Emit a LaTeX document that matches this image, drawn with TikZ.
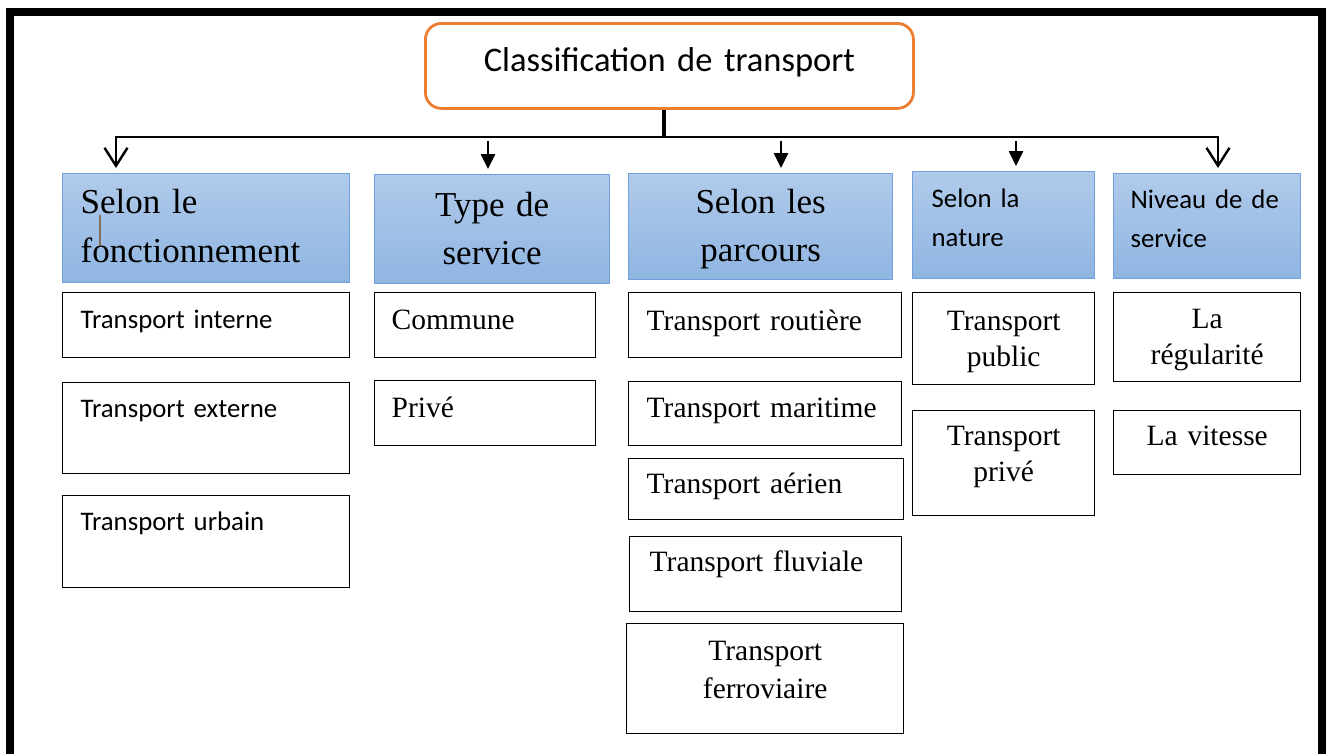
\documentclass[tikz,border=0pt]{standalone}
\usepackage{fontspec}
\setmainfont{Liberation Serif}
\newfontfamily\calib{Carlito}
\usetikzlibrary{arrows.meta,calc}
\definecolor{orng}{RGB}{237,125,49}
\definecolor{bluetop}{RGB}{176,202,234}
\definecolor{bluebot}{RGB}{143,181,226}
\definecolor{blueedge}{RGB}{112,161,221}
\definecolor{caretc}{RGB}{130,112,92}
% \mkbox{name}{style}{x1}{y1}{x2}{y2}{first baseline}{side margin}{text}
\newcommand\mkbox[9]{%
  \node[#2, anchor=north west, inner ysep=0pt, inner xsep=#8pt,
        text width={#5-#3-2*#8}, text height={#7-#4}, text depth={#6-#7}]
        (#1) at (#3,-#4) {#9};}
\begin{document}
\begin{tikzpicture}[x=1pt,y=1pt,
  topbox/.style={draw=orng, line width=2.8pt, rounded corners=16pt, fill=white,
                 font=\calib\fontsize{34.5}{42}\selectfont, align=center},
  head/.style={draw=blueedge, line width=1.3pt, top color=bluetop, bottom color=bluebot},
  hserifl/.style={head, font=\fontsize{35}{49}\selectfont, align=left},
  hserifc/.style={head, font=\fontsize{35}{48}\selectfont, align=center},
  hsans/.style={head, font=\calib\fontsize{26.8}{38.5}\selectfont, align=left},
  item/.style={draw=black, line width=1.4pt, fill=white},
  isans/.style={item, font=\calib\fontsize{26.8}{34}\selectfont, align=left},
  iserifl/.style={item, font=\fontsize{29.5}{36}\selectfont, align=left},
  iserifc/.style={item, font=\fontsize{29.5}{36}\selectfont, align=center},
  bus/.style={draw=black, line width=2.6pt},
  openarr/.style={bus, shorten >=5pt, -{Straight Barb[length=18pt,width=23pt,line width=2.4pt]}},
  fillarr/.style={bus, shorten >=5pt, -{Triangle[length=15pt,width=14pt]}},
  frame/.style={draw=black, line width=8pt},
  caret/.style={draw=caretc, line width=1.3pt}
]
\fill[white] (0,0) rectangle (1326,-753);
\useasboundingbox (0,0) rectangle (1326,-753);
\draw[frame] (10,-770) -- (10,-12) -- (1321.5,-12) -- (1321.5,-770);

% top
\mkbox{top}{topbox}{424}{22}{912}{107}{70}{0}{Classification de transport}

% headers
\mkbox{h1}{hserifl}{62}{173}{349}{282}{213}{18}{Selon le\\fonctionnement}
\mkbox{h2}{hserifc}{374}{174}{609}{283}{216}{0}{Type de\\service}
\mkbox{h3}{hserifc}{628}{173}{892}{279}{213}{0}{Selon les\\parcours}
\mkbox{h4}{hsans}{912}{171}{1094}{278}{207}{19}{Selon la\\nature}
\mkbox{h5}{hsans}{1113}{173}{1300}{278}{208}{17}{Niveau de de\\service}
\draw[caret] (100,-215) -- (100,-246);

% column 1
\mkbox{c11}{isans}{62}{292}{349}{357}{328}{18}{Transport interne}
\mkbox{c12}{isans}{62}{382}{349}{473}{417}{18}{Transport externe}
\mkbox{c13}{isans}{62}{495}{349}{587}{530}{18}{Transport urbain}
% column 2
\mkbox{c21}{iserifl}{374}{292}{595}{357}{329}{17}{Commune}
\mkbox{c22}{iserifl}{374}{380}{595}{445}{417}{17}{Privé}
% column 3
\mkbox{c31}{iserifl}{628}{292}{901}{357}{330}{18}{Transport routière}
\mkbox{c32}{iserifl}{628}{381}{901}{445}{417}{18}{Transport maritime}
\mkbox{c33}{iserifl}{628}{458}{903}{519}{493}{18}{Transport aérien}
\mkbox{c34}{iserifl}{629}{536}{901}{611}{571}{20}{Transport fluviale}
\node[iserifc, anchor=north west, inner ysep=0pt, inner xsep=0pt,
      text width=277, text height=37, text depth=73,
      font=\fontsize{29.5}{38}\selectfont] (c35) at (626,-623) {Transport\\ferroviaire};
% column 4
\mkbox{c41}{iserifc}{912}{292}{1094}{384}{330}{0}{Transport\\public}
\mkbox{c42}{iserifc}{912}{410}{1094}{515}{445}{0}{Transport\\privé}
% column 5
\mkbox{c51}{iserifc}{1113}{292}{1300}{381}{328}{0}{La\\régularité}
\mkbox{c52}{iserifc}{1113}{410}{1300}{474}{445}{0}{La vitesse}

% connectors
\coordinate (j) at (664,-137);
\coordinate (L) at (116,-137);
\coordinate (R) at (1218,-137);
\coordinate (m2) at (488,-141);
\coordinate (m3) at (781,-141);
\coordinate (m4) at (1016,-141);
\draw[bus, line width=4pt] (top.south -| j) -- (j);
\draw[openarr] (j) -- (L) -- (L |- h1.north);
\draw[openarr] (j) -- (R) -- (R |- h5.north);
\draw[fillarr] (m2) -- (m2 |- h2.north);
\draw[fillarr] (m3) -- (m3 |- h3.north);
\draw[fillarr] (m4) -- (m4 |- h4.north);
\end{tikzpicture}
\end{document}
